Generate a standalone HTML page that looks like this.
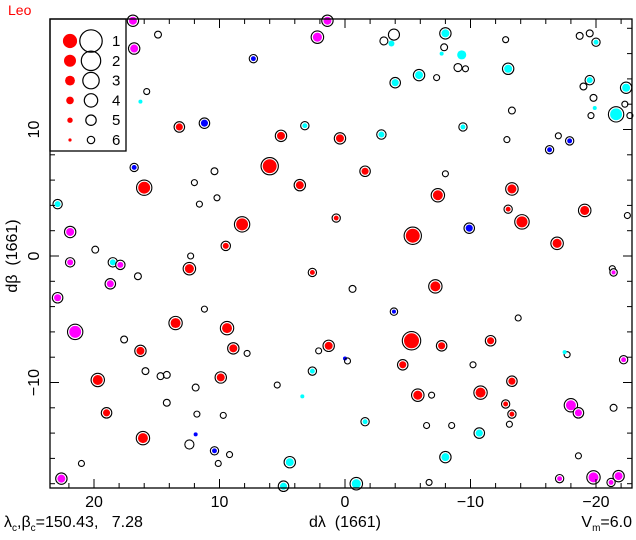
<!DOCTYPE html>
<html><head><meta charset="utf-8"><style>
body{margin:0;background:#fff}
svg{display:block;font-family:"Liberation Sans",sans-serif}
</style></head><body>
<svg id="chart" width="636" height="540">
<text x="8" y="15" fill="#f00" font-size="14">Leo</text>
<g id="marks"></g>
<g id="axes"></g>
<rect x="50" y="19" width="76" height="132" fill="#fff" stroke="#000" stroke-width="1.3"/>
<g id="legend"></g>
<rect x="50" y="19" width="582" height="469" fill="none" stroke="#000" stroke-width="1.3"/>
<text x="4" y="527" font-size="16">λ<tspan font-size="10" dy="4">c</tspan><tspan dy="-4">,β</tspan><tspan font-size="10" dy="4">c</tspan><tspan dy="-4">=150.43,&#160;&#160;&#160;7.28</tspan></text>
<text x="345" y="527" font-size="16" text-anchor="middle">dλ&#160;&#160;(1661)</text>
<text x="632" y="527" font-size="16" text-anchor="end">V<tspan font-size="10" dy="4">m</tspan><tspan dy="-4">=6.0</tspan></text>
<text transform="translate(17,256) rotate(-90)" font-size="16" text-anchor="middle">dβ&#160;&#160;(1661)</text>
</svg>
<script>
const lam=[16.9,14.9,16.8,15.8,16.3,13.2,11.2,16.8,16.0,10.4,
12.0,11.6,10.2,22.9,8.2,6.0,5.1,3.6,2.2,7.3,
9.5,21.9,19.9,12.3,21.9,18.5,17.9,3.2,1.4,12.4,
-3.9,-3.1,-3.7,-8.0,-7.9,-7.7,-9.3,-9.0,-9.6,-13.0,
-12.8,-4.0,-5.9,-7.3,-18.7,-19.5,-20.0,-19.5,-19.0,-19.8,
-19.9,-22.4,-22.3,-21.6,-22.7,-19.6,-9.4,-13.3,-2.9,-12.9,
-17.0,-16.3,-17.9,0.4,-1.6,-8.0,-7.4,-13.3,-13.0,-14.1,
-19.1,-22.5,0.7,-5.4,-9.9,-16.9,-21.3,2.6,16.5,18.7,
22.9,21.5,13.5,9.4,8.9,17.6,11.2,16.3,7.8,15.9,
14.7,14.2,19.7,9.9,11.9,5.4,3.4,2.6,14.2,19.0,
11.8,9.7,16.1,11.9,12.4,10.4,9.2,10.1,21.0,22.6,
4.4,4.9,-0.6,-7.2,-3.9,-13.8,-5.3,1.3,2.1,-7.7,
-11.6,-17.7,-17.5,0,-0.2,-4.6,-10.2,-13.3,-6.9,-5.8,
-10.8,-12.8,-13.3,-1.6,-6.5,-8.5,-13.1,-10.7,-18.0,-21.4,
-18.6,-8.0,-18.6,-0.9,-6.7,-17.1,-19.8,-21.8,-21.2,-22.2,-21.4];
const bet=[18.6,17.5,16.4,13.0,12.2,10.2,10.5,7.0,5.4,6.7,
5.8,4.1,4.6,4.1,2.5,7.1,9.5,5.6,17.3,15.6,
0.8,1.9,0.5,0,-0.5,-0.5,-0.7,10.3,18.6,-1.0,
17.5,17.0,16.8,17.6,16.5,16.0,15.9,14.9,14.8,14.8,
17.1,13.7,14.3,14.1,17.4,17.6,16.9,13.9,13.4,12.5,
11.7,13.3,12.0,11.2,11.1,11.1,10.2,11.5,9.6,9.2,
9.5,8.4,9.1,9.3,6.7,6.5,4.8,5.3,3.7,2.7,
3.6,3.2,3.0,1.6,2.2,1.0,-1.0,-1.3,-1.6,-2.2,
-3.3,-6.0,-5.3,-5.7,-7.3,-6.6,-4.2,-7.5,-7.7,-9.1,
-9.5,-9.4,-9.8,-9.6,-10.4,-10.2,-11.1,-9.1,-11.6,-12.4,
-12.5,-12.6,-14.4,-14.1,-14.9,-15.4,-15.7,-16.4,-16.4,-17.6,
-16.3,-18.2,-2.6,-2.4,-4.4,-4.9,-6.7,-7.1,-7.5,-7.1,
-6.7,-7.8,-7.6,-8.1,-8.3,-8.6,-8.6,-9.9,-11.0,-11.0,
-10.8,-11.7,-12.5,-13.1,-13.4,-13.4,-13.3,-14.0,-11.8,-12.0,
-12.4,-15.9,-15.8,-18.0,-17.9,-17.6,-17.5,-17.4,-17.9,-8.2,-1.3];
const mag=[4.1,5.5,4.1,5.9,5.9,4.5,4.5,5.5,2.3,5.5,
5.9,5.9,5.9,5.0,2.3,1.4,4.1,4.1,3.6,5.5,
5.0,4.1,5.5,5.9,5.0,5.0,5.0,5.5,4.1,3.6,
3.6,5.0,5.0,4.1,5.5,5.9,3.6,5.0,5.9,4.1,
5.9,4.5,4.1,5.9,5.5,5.5,5.5,5.0,5.5,5.5,
5.9,4.1,5.9,2.3,5.9,5.9,5.5,5.5,5.0,5.9,
5.9,5.5,5.5,4.1,4.5,5.9,3.2,3.6,5.5,2.7,
3.6,5.9,5.5,1.4,4.5,3.6,5.9,5.5,5.5,4.5,
4.5,2.3,3.2,3.2,4.1,5.5,5.9,4.1,5.9,5.5,
5.5,5.5,3.2,4.1,5.5,5.9,5.9,5.5,5.5,4.5,
5.9,5.9,3.2,5.9,4.5,5.5,5.9,5.9,5.9,4.1,
4.1,4.5,5.5,3.2,5.9,5.9,0.9,4.1,5.9,4.5,
4.5,5.9,5.9,5.9,5.9,4.5,5.9,4.5,5.9,3.6,
3.2,5.5,5.5,5.5,5.9,5.9,5.9,4.5,3.2,5.5,
4.5,4.1,5.9,3.6,5.9,5.5,3.2,4.1,5.5,5.5,5.9];
const col=["m","","m","","c","r","b","b","r","",
"","","","c","r","r","r","r","m","b",
"r","m","","","m","c","m","c","m","r",
"","","c","c","","c","c","","","c",
"","c","c","","","","c","c","","",
"c","c","","c","","","c","","c","",
"","b","b","r","r","","r","r","r","r",
"r","","r","r","b","r","","r","","m",
"m","m","r","r","r","","","r","","",
"","","r","r","","","c","c","","r",
"","","r","b","","b","","","","m",
"c","c","","r","b","","r","r","","r",
"r","","c","b","","r","","r","","r",
"r","r","r","c","","","","c","m","",
"m","c","","c","","m","m","m","m","m","m"];
const ring=[1,1,1,1,0,1,1,1,1,1,
1,1,1,1,1,1,1,1,1,1,
1,1,1,1,1,1,1,1,1,1,
1,1,0,1,1,0,0,1,1,1,
1,1,1,1,1,1,1,1,1,1,
0,1,1,1,1,1,1,1,1,1,
1,1,1,1,1,1,1,1,1,1,
1,1,1,1,1,1,1,1,1,1,
1,1,1,1,1,1,1,1,1,1,
1,1,1,1,1,1,0,1,1,1,
1,1,1,0,1,1,1,1,1,1,
1,1,1,1,1,1,1,1,1,1,
1,1,0,0,1,1,1,1,1,1,
1,1,1,1,1,1,1,1,1,1,
1,1,1,1,1,1,1,1,1,1,1];
const xTickLabels=[20,10,0,-10,-20];
const yTickLabels=[10,0,-10];
const legendMags=[1,2,3,4,5,6];
const NS="http://www.w3.org/2000/svg";
const X=v=>345-12.55*v, Y=v=>256-12.65*v;
const colors={r:"#f00",m:"#f0f",c:"#0ff",b:"#00f"};
function mk(t,a,p){const e=document.createElementNS(NS,t);for(const k in a)e.setAttribute(k,a[k]);p.appendChild(e);return e;}
const g=document.getElementById("marks");
for(let i=0;i<lam.length;i++){
  const cx=X(lam[i]),cy=Y(bet[i]);
  if(!col[i]){
    const c=mk("circle",{cx:cx,cy:cy,r:Math.max(2.5,9.5-1.1*mag[i]),fill:"none",stroke:"#000","stroke-width":1.1},g);
    
    
  }else{
    const r=Math.max(1.8,8.5-1.1*mag[i]);
    if(ring[i]){const o=mk("circle",{cx:cx,cy:cy,r:r+1.7,fill:"#fff",stroke:"#000","stroke-width":1.1},g);
      
      }
    const c=mk("circle",{cx:cx,cy:cy,r:r,fill:colors[col[i]]},g);
    
    
  }
}
const ax=document.getElementById("axes");
for(let v=-22;v<=22;v+=2){const x=X(v);if(x<50||x>632)continue;const L=v%10===0?9:5;
  mk("line",{x1:x,y1:488,x2:x,y2:488-L,stroke:"#000"},ax);mk("line",{x1:x,y1:19,x2:x,y2:19+L,stroke:"#000"},ax);}
for(let v=-18;v<=18;v+=2){const y=Y(v);if(y<19||y>488)continue;const L=v%10===0?9:5;
  mk("line",{x1:50,y1:y,x2:50+L,y2:y,stroke:"#000"},ax);mk("line",{x1:632,y1:y,x2:632-L,y2:y,stroke:"#000"},ax);}
xTickLabels.forEach(v=>{const t=mk("text",{x:X(v),y:507,"font-size":16,"text-anchor":"middle"},ax);t.textContent=v<0?"−"+(-v):v;
  
  });
yTickLabels.forEach(v=>{const t=mk("text",{transform:`translate(39,${Y(v)}) rotate(-90)`,"font-size":16,"text-anchor":"middle"},ax);t.textContent=v<0?"−"+(-v):v;
  
  });
const lg=document.getElementById("legend");
legendMags.forEach((m,i)=>{const y=41+i*19.8;
  const d=mk("circle",{cx:70,cy:y,r:8.2-1.1*m,fill:"#f00"},lg);
  
  
  const o=mk("circle",{cx:91,cy:y,r:12.7-1.5*m,fill:"none",stroke:"#000","stroke-width":1.2},lg);
  
  
  const t=mk("text",{x:112,y:y+5,"font-size":15},lg);t.textContent=m;
  
  });
</script>
</body></html>
